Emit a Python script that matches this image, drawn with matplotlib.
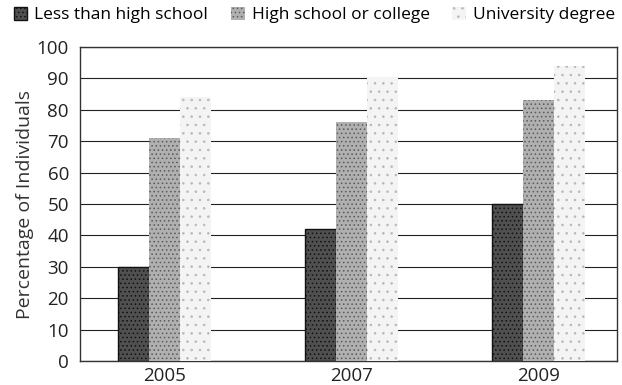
import matplotlib
matplotlib.use("Agg")
import matplotlib.pyplot as plt
import numpy as np

years = ["2005", "2007", "2009"]
less_than_hs = [30, 42, 50]
hs_or_college = [71, 76, 83]
university = [84, 90, 94]
series_names = ["Less than high school", "High school or college", "University degree"]

plt.rcParams["font.family"] = ["Open Sans", "DejaVu Sans"]
plt.rcParams["hatch.linewidth"] = 0.6

fig = plt.figure(figsize=(6.22, 3.85), dpi=100)
ax = fig.add_axes([0.1286, 0.062, 0.863, 0.816])

x = np.arange(len(years))
w = 0.166

# rough look of the stippled grey fills in the scan
b1 = ax.bar(x - w, less_than_hs, w, color="#505050", edgecolor="#111111",
            hatch="....", linewidth=1.0, zorder=3, label=series_names[0])
b2 = ax.bar(x, hs_or_college, w, color="#b0b0b0", edgecolor="#5a5a5a",
            hatch="....", linewidth=0, zorder=3, label=series_names[1])
b3 = ax.bar(x + w, university, w, color="#f4f4f4", edgecolor="#b8b8b8",
            hatch="..", linewidth=0, zorder=3, label=series_names[2])

ax.set_ylim(0, 100)
ax.set_xlim(-0.45, 2.42)
ax.set_yticks(range(0, 101, 10))
ax.set_xticks(x)
ax.set_xticklabels(years)
ax.tick_params(axis="y", length=0, labelsize=13.5, pad=8, labelcolor="#222222")
ax.tick_params(axis="x", length=0, labelsize=13.5, pad=4, labelcolor="#222222")
ax.set_ylabel("Percentage of Individuals", fontsize=14, labelpad=2, color="#333333")
ax.yaxis.grid(True, color="#222222", linewidth=0.8, zorder=0)
ax.set_axisbelow(True)
for s in ax.spines.values():
    s.set_color("#333333")
    s.set_linewidth(1.0)

fig.legend(handles=[b1, b2, b3], loc="upper left", bbox_to_anchor=(0.005, 1.01),
           ncol=3, frameon=False, fontsize=12.5, handlelength=0.8, handleheight=0.8,
           handletextpad=0.4, columnspacing=1.3, borderaxespad=0.2)

fig.savefig("out.png", dpi=100)
